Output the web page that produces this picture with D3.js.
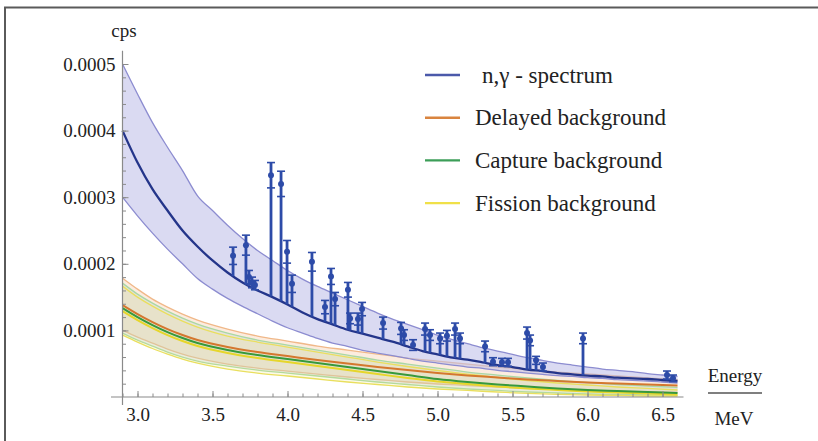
<!DOCTYPE html>
<html>
<head>
<meta charset="utf-8">
<script src="https://cdn.jsdelivr.net/npm/d3@7"></script>
<style>
  body { margin: 0; background: #fff; }
  svg { display: block; }
</style>
</head>
<body>
<div id="chart"></div>
<script>
// n,gamma spectrum (centre line and band), energy in MeV, cps
var energy = [2.9, 3.0, 3.1, 3.2, 3.3, 3.4, 3.5, 3.6, 3.7, 3.8, 3.9, 4.0, 4.1, 4.2, 4.3, 4.4, 4.5, 4.6, 4.7,
              4.8, 4.9, 5.0, 5.1, 5.2, 5.3, 5.4, 5.5, 5.6, 5.7, 5.8, 5.9, 6.0, 6.1, 6.2, 6.3, 6.4, 6.5, 6.6];
var spectrum = [0.000400, 0.000352, 0.000312, 0.000280, 0.000250, 0.000226, 0.000205, 0.000187, 0.000172, 0.000160,
                0.000150, 0.000139, 0.000127, 0.000117, 0.000109, 0.000101, 0.000095, 0.000089, 0.000083, 0.000076,
                0.000069, 0.000064, 0.000059, 0.000056, 0.000052, 0.000048, 0.000045, 0.000041, 0.000039, 0.000036,
                0.000034, 0.000032, 0.000031, 0.000029, 0.000028, 0.000027, 0.0000255, 0.000024];
var spectrumHi = [0.000500, 0.000455, 0.000412, 0.000375, 0.000340, 0.000302, 0.000280, 0.000258, 0.000238, 0.000220,
                  0.000205, 0.000190, 0.000177, 0.000166, 0.000156, 0.000146, 0.000136, 0.000126, 0.000117, 0.000109,
                  0.000101, 0.000093, 0.000086, 0.000080, 0.000074, 0.000069, 0.000064, 0.000059, 0.000055, 0.000051,
                  0.000048, 0.000045, 0.000042, 0.000040, 0.000038, 0.000035, 0.000033, 0.000031];
var spectrumLo = [0.000300, 0.000272, 0.000246, 0.000222, 0.000200, 0.000178, 0.000162, 0.000148, 0.000136, 0.000125,
                  0.000114, 0.000104, 0.000096, 0.000088, 0.000081, 0.000076, 0.000070, 0.000066, 0.000062, 0.000058,
                  0.000054, 0.000051, 0.000048, 0.000045, 0.000043, 0.000040, 0.000038, 0.000036, 0.000034, 0.000032,
                  0.000031, 0.000029, 0.000028, 0.000026, 0.000025, 0.000024, 0.0000225, 0.000021];

// peaks: energy, value, error
var peakE   = [3.637, 3.723, 3.743, 3.763, 3.783, 3.890, 3.957, 3.997, 4.030, 4.163, 4.250, 4.290, 4.317, 4.403, 4.417,
               4.470, 4.497, 4.637, 4.757, 4.777, 4.837, 4.917, 4.950, 5.017, 5.063, 5.117, 5.150, 5.317, 5.370, 5.430,
               5.470, 5.597, 5.617, 5.657, 5.703, 5.970, 6.530, 6.570];
var peakVal = [0.000212, 0.000228, 0.000180, 0.000172, 0.000168, 0.000333, 0.000320, 0.000218, 0.000170, 0.000203,
               0.000135, 0.000181, 0.000147, 0.000161, 0.000118, 0.000117, 0.000132, 0.000111, 0.000103, 0.000093,
               0.000078, 0.000102, 0.000093, 0.000088, 0.000092, 0.000102, 0.000088, 0.000076, 0.000053, 0.000052,
               0.000052, 0.000096, 0.000085, 0.000055, 0.000045, 0.000088, 0.000033, 0.000028];
var peakErr = [0.000013, 0.000015, 0.000010, 0.000008, 0.000007, 0.000019, 0.000019, 0.000017, 0.000013, 0.000014,
               0.000010, 0.000012, 0.000010, 0.000011, 0.000008, 0.000009, 0.000010, 0.000009, 0.000009, 0.000008,
               0.000008, 0.000009, 0.000008, 0.000008, 0.000008, 0.000009, 0.000008, 0.000008, 0.000006, 0.000006,
               0.000006, 0.000009, 0.000008, 0.000006, 0.000006, 0.000008, 0.000006, 0.000005];

// backgrounds (centre, upper and lower band edge)
var bgEnergy = [2.9, 3.0, 3.1, 3.2, 3.3, 3.4, 3.6, 3.8, 4.0, 4.2, 4.4, 4.6, 4.8, 5.0, 5.2, 5.4, 5.6, 5.8, 6.0, 6.2, 6.4, 6.6];
var delayed   = [0.000138, 0.0001245, 0.0001125, 0.000102, 0.000093, 0.0000855, 0.000075, 0.0000675, 0.0000615, 0.0000555, 0.0000503,
                 0.000045, 0.0000405, 0.000036, 0.0000323, 0.0000293, 0.0000263, 0.000024, 0.0000218, 0.0000203, 0.0000188, 0.0000173];
var delayedHi = [0.0001785, 0.000162, 0.000147, 0.000135, 0.0001245, 0.0001155, 0.000102, 0.0000915, 0.000084, 0.0000765, 0.0000705,
                 0.0000645, 0.0000585, 0.000054, 0.0000495, 0.000045, 0.0000413, 0.0000375, 0.0000345, 0.0000315, 0.0000285, 0.0000255];
var delayedLo = [0.0001005, 0.000090, 0.000081, 0.000072, 0.0000645, 0.0000585, 0.0000495, 0.0000435, 0.000039, 0.0000345, 0.000030,
                 0.0000263, 0.0000225, 0.0000195, 0.0000173, 0.000015, 0.0000128, 0.0000113, 0.0000098, 0.0000083, 0.0000075, 0.0000068];
var capture   = [0.0001335, 0.000120, 0.000108, 0.0000975, 0.0000885, 0.000081, 0.0000705, 0.000063, 0.000057, 0.000051, 0.000045,
                 0.000039, 0.000033, 0.000027, 0.0000225, 0.0000188, 0.0000158, 0.0000128, 0.0000105, 0.000009, 0.0000075, 0.000006];
var captureHi = [0.000171, 0.0001545, 0.000141, 0.000129, 0.0001185, 0.0001095, 0.000096, 0.0000855, 0.000078, 0.0000705, 0.000063,
                 0.0000555, 0.0000495, 0.0000435, 0.0000375, 0.000033, 0.0000285, 0.0000248, 0.0000218, 0.0000188, 0.0000165, 0.0000143];
var captureLo = [0.000096, 0.0000855, 0.0000765, 0.0000675, 0.000060, 0.000054, 0.0000465, 0.0000405, 0.000036, 0.0000315, 0.000027,
                 0.0000225, 0.0000188, 0.000015, 0.000012, 0.0000098, 0.0000075, 0.000006, 0.0000045, 0.0000038, 0.000003, 0.0000023];
var fission   = [0.000129, 0.0001155, 0.0001035, 0.000093, 0.000084, 0.0000765, 0.000066, 0.0000585, 0.0000525, 0.0000465, 0.0000405,
                 0.0000345, 0.0000285, 0.0000233, 0.0000195, 0.0000158, 0.0000128, 0.0000105, 0.0000083, 0.0000068, 0.0000053, 0.0000038];
var fissionHi = [0.0001665, 0.000150, 0.0001365, 0.0001245, 0.000114, 0.000105, 0.0000915, 0.0000825, 0.000075, 0.0000675, 0.000060,
                 0.0000525, 0.0000458, 0.0000398, 0.0000345, 0.0000293, 0.0000248, 0.000021, 0.000018, 0.000015, 0.0000128, 0.0000105];
var fissionLo = [0.000093, 0.0000825, 0.0000728, 0.0000645, 0.000057, 0.000051, 0.000042, 0.000036, 0.0000315, 0.000027, 0.0000225,
                 0.0000188, 0.000015, 0.000012, 0.0000098, 0.0000075, 0.0000053, 0.0000038, 0.000003, 0.0000023, 0.0000015, 0.0000015];

var xTicks = [3.0, 3.5, 4.0, 4.5, 5.0, 5.5, 6.0, 6.5];
var yTicks = [0.0001, 0.0002, 0.0003, 0.0004, 0.0005];
var legendNames = ["n,\u03b3  - spectrum", "Delayed background", "Capture background", "Fission background"];
var legendColors = ["#4b59aa", "#d9843f", "#3c9e58", "#f0e048"];

var serif = "Liberation Serif";
var width = 818, height = 441;

var svg = d3.select("#chart").append("svg")
    .attr("width", width)
    .attr("height", height)
    .attr("font-family", serif);

// frame (only left and top edges are inside the picture)
svg.append("rect")
    .attr("x", 5).attr("y", 7.5)
    .attr("width", 840).attr("height", 470)
    .attr("fill", "none")
    .attr("stroke", "#5a5a5a")
    .attr("stroke-width", 2);

var x = d3.scaleLinear().domain([2.9, 6.6]).range([122.5, 677.5]);
var y = d3.scaleLinear().domain([0, 0.0005]).range([397, 64]);

function band(xs, lo, hi) {
    return d3.area()
        .x(function(d, i) { return x(xs[i]); })
        .y0(function(d, i) { return y(lo[i]); })
        .y1(function(d, i) { return y(hi[i]); })
        .curve(d3.curveMonotoneX)(xs);
}
function line(xs, vals) {
    return d3.line()
        .x(function(d, i) { return x(xs[i]); })
        .y(function(d, i) { return y(vals[i]); })
        .curve(d3.curveMonotoneX)(xs);
}

// background bands
var bgs = [
    {lo: delayedLo, hi: delayedHi, mid: delayed, fill: "#f3b98c", fo: 0.28, edge: "#f0b889", col: "#d4772e"},
    {lo: captureLo, hi: captureHi, mid: capture, fill: "#b4cbd6", fo: 0.3, edge: "#a9d8a4", col: "#37993c"},
    {lo: fissionLo, hi: fissionHi, mid: fission, fill: "#eee27c", fo: 0.18, edge: "#e9df5e", col: "#e6d62a"}
];
bgs.forEach(function(b) {
    svg.append("path")
        .attr("d", band(bgEnergy, b.lo, b.hi))
        .attr("fill", b.fill)
        .attr("fill-opacity", b.fo);
    svg.append("path").attr("d", line(bgEnergy, b.hi))
        .attr("fill", "none").attr("stroke", b.edge).attr("stroke-width", 1.3);
    svg.append("path").attr("d", line(bgEnergy, b.lo))
        .attr("fill", "none").attr("stroke", b.edge).attr("stroke-width", 1.3);
});
bgs.slice().reverse().forEach(function(b) {
    svg.append("path").attr("d", line(bgEnergy, b.mid))
        .attr("fill", "none").attr("stroke", b.col).attr("stroke-width", 2);
});

// spectrum band
svg.append("path")
    .attr("d", band(energy, spectrumLo, spectrumHi))
    .attr("fill", "#bcbce8")
    .attr("fill-opacity", 0.55);
svg.append("path").attr("d", line(energy, spectrumHi))
    .attr("fill", "none").attr("stroke", "#8c8cd0").attr("stroke-width", 1.3);
svg.append("path").attr("d", line(energy, spectrumLo))
    .attr("fill", "none").attr("stroke", "#8c8cd0").attr("stroke-width", 1.3);
svg.append("path").attr("d", line(energy, spectrum))
    .attr("fill", "none").attr("stroke", "#24358a").attr("stroke-width", 2.3);

// peaks with error bars
var base = d3.scaleLinear().domain(energy).range(spectrum);
var peaks = svg.append("g").attr("stroke", "#2d4ba8").attr("fill", "#2d4ba8");
peakE.forEach(function(e, i) {
    var px = x(e);
    var g = peaks.append("g");
    g.append("line")
        .attr("x1", px).attr("x2", px)
        .attr("y1", y(base(e))).attr("y2", y(peakVal[i] + peakErr[i]))
        .attr("stroke-width", 2.8);
    [peakVal[i] + peakErr[i], peakVal[i] - peakErr[i]].forEach(function(v) {
        g.append("line")
            .attr("x1", px - 4).attr("x2", px + 4)
            .attr("y1", y(v)).attr("y2", y(v))
            .attr("stroke-width", 1.6);
    });
    g.append("circle")
        .attr("cx", px).attr("cy", y(peakVal[i]))
        .attr("r", 3)
        .attr("stroke", "none");
});

// axes
svg.append("line")
    .attr("x1", 111).attr("x2", x(6.64))
    .attr("y1", y(0)).attr("y2", y(0))
    .attr("stroke", "#8a8a8a").attr("stroke-width", 1.2);
svg.append("line")
    .attr("x1", x(2.9)).attr("x2", x(2.9))
    .attr("y1", 405).attr("y2", y(0.00052))
    .attr("stroke", "#8a8a8a").attr("stroke-width", 1.2);

var xMinor = d3.range(29, 66).map(function(d) { return d / 10; });
var yMinor = d3.range(1, 26).map(function(d) { return d * 0.00002; });

var gx = svg.append("g").attr("transform", "translate(0," + y(0) + ")");
gx.append("g").call(d3.axisBottom(x).tickValues(xMinor).tickSizeInner(-3.5).tickSizeOuter(0).tickFormat(""));
gx.append("g").call(d3.axisBottom(x).tickValues(xTicks).tickSizeInner(-6).tickSizeOuter(0)
        .tickPadding(11).tickFormat(d3.format(".1f")));

var gy = svg.append("g").attr("transform", "translate(" + x(2.9) + ",0)");
gy.append("g").call(d3.axisLeft(y).tickValues(yMinor).tickSizeInner(-3.5).tickSizeOuter(0).tickFormat(""));
gy.append("g").call(d3.axisLeft(y).tickValues(yTicks).tickSizeInner(-6).tickSizeOuter(0)
        .tickPadding(7).tickFormat(d3.format(".4f")));

svg.selectAll(".domain").remove();
svg.selectAll(".tick line").attr("stroke", "#8a8a8a");
svg.selectAll(".tick text")
    .attr("fill", "#222")
    .attr("font-size", 19);
svg.selectAll("g").attr("font-family", serif);

// axis titles
svg.append("text")
    .attr("x", 124).attr("y", 37)
    .attr("text-anchor", "middle").attr("font-size", 19).attr("fill", "#222")
    .text("cps");
svg.append("text")
    .attr("x", 735).attr("y", 382)
    .attr("text-anchor", "middle").attr("font-size", 19).attr("fill", "#222")
    .text("Energy");
svg.append("line")
    .attr("x1", 708).attr("x2", 762).attr("y1", 393).attr("y2", 393)
    .attr("stroke", "#555").attr("stroke-width", 1.6);
svg.append("text")
    .attr("x", 734).attr("y", 425)
    .attr("text-anchor", "middle").attr("font-size", 19).attr("fill", "#222")
    .text("MeV");

// legend
var legend = svg.append("g").attr("transform", "translate(425,75)");
legendNames.forEach(function(name, i) {
    var row = legend.append("g").attr("transform", "translate(0," + (i * 42.7) + ")");
    row.append("line")
        .attr("x1", 0).attr("x2", 35)
        .attr("stroke", legendColors[i]).attr("stroke-width", 2.4);
    row.append("text")
        .attr("x", i === 0 ? 57 : 50).attr("y", 0)
        .attr("dy", "0.33em")
        .attr("font-size", 23).attr("fill", "#222")
        .text(name);
});
</script>
</body>
</html>
